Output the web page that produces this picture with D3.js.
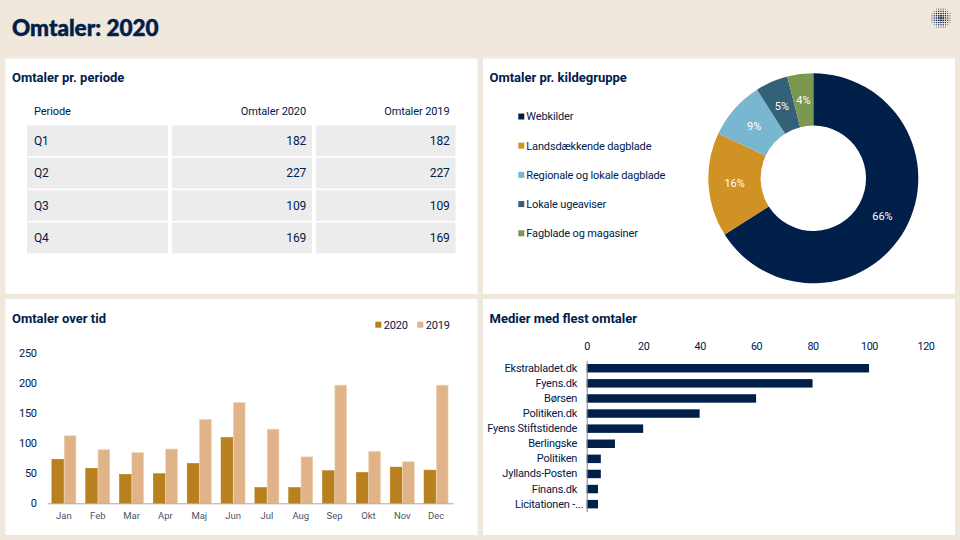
<!DOCTYPE html>
<html>
<head>
<meta charset="utf-8">
<script src="https://cdn.jsdelivr.net/npm/d3@7"></script>
<style>
  html, body { margin: 0; padding: 0; background: #f0e8dd; }
  svg { display: block; font-family: Roboto, sans-serif; }
  .axis path, .axis line { fill: none; }
  .panel-title { font-size: 13px; font-weight: 700; fill: #00204a; }
</style>
</head>
<body>
<div id="chart"></div>
<script>
// table
const tableHeader = ["Periode", "Omtaler 2020", "Omtaler 2019"];
const periods = ["Q1", "Q2", "Q3", "Q4"];
const mentions2020 = [182, 227, 109, 169];
const mentions2019 = [182, 227, 109, 169];

// donut
const sourceGroups = ["Webkilder", "Landsdækkende dagblade", "Regionale og lokale dagblade", "Lokale ugeaviser", "Fagblade og magasiner"];
const sourceShares = [66, 16, 9, 5, 4];
const sourceColors = ["#00204a", "#d09125", "#79b7d1", "#336178", "#7c984e"];

// monthly bars
const months = ["Jan", "Feb", "Mar", "Apr", "Maj", "Jun", "Jul", "Aug", "Sep", "Okt", "Nov", "Dec"];
const monthly2020 = [73, 58, 48, 49, 66, 109, 26, 26, 54, 51, 60, 55];
const monthly2019 = [112, 89, 84, 90, 139, 167, 123, 77, 196, 86, 69, 196];
const monthTicks = [0, 50, 100, 150, 200, 250];

// media bars
const media = ["Ekstrabladet.dk", "Fyens.dk", "Børsen", "Politiken.dk", "Fyens Stiftstidende", "Berlingske", "Politiken", "Jyllands-Posten", "Finans.dk", "Licitationen -..."];
const mediaCounts = [100, 80, 60, 40, 20, 10, 5, 5, 4, 4];
const mediaTicks = [0, 20, 40, 60, 80, 100, 120];

const NAVY = "#00204a";

const svg = d3.select("#chart").append("svg")
    .attr("width", 960)
    .attr("height", 540)
    .attr("viewBox", "0 0 960 540");

svg.append("rect").attr("width", 960).attr("height", 540).attr("fill", "#f0e8dd");

svg.append("text")
    .attr("x", 12).attr("y", 36)
    .attr("font-family", "Lato, sans-serif")
    .attr("font-size", 22.5)
    .attr("font-weight", 900)
    .attr("fill", NAVY)
    .attr("stroke", NAVY)
    .attr("stroke-width", 0.5)
    .text("Omtaler: 2020");

// white panels
const panels = [
  {x: 5.5, y: 58.5, title: "Omtaler pr. periode", tx: 12, ty: 81.5},
  {x: 483, y: 58.5, title: "Omtaler pr. kildegruppe", tx: 489.5, ty: 81.5},
  {x: 5.5, y: 299, title: "Omtaler over tid", tx: 12, ty: 323},
  {x: 483, y: 299, title: "Medier med flest omtaler", tx: 489.5, ty: 323}
];
svg.selectAll("rect.panel").data(panels).enter().append("rect")
    .attr("class", "panel")
    .attr("x", d => d.x).attr("y", d => d.y)
    .attr("width", 472).attr("height", d => d.y < 100 ? 235.5 : 236)
    .attr("fill", "#fff");
svg.selectAll("text.panel-title").data(panels).enter().append("text")
    .attr("class", "panel-title")
    .attr("x", d => d.tx).attr("y", d => d.ty)
    .text(d => d.title);

// logo: dot grid fading toward the edge
const logoSteps = d3.range(-4, 5);
const logoDots = logoSteps.flatMap(a => logoSteps.map(b => ({a, b})))
    .filter(d => Math.hypot(d.a, d.b) < 5);
svg.append("g").selectAll("circle").data(logoDots).enter().append("circle")
    .attr("cx", d => 941 + d.a * 2.25)
    .attr("cy", d => 18 + d.b * 2.25)
    .attr("r", d => 1.05 - Math.hypot(d.a, d.b) * 0.13)
    .attr("fill", "#0b1a4a");

// ---- table ----
const colX = d3.scaleOrdinal().domain([0, 1, 2]).range([27, 172, 316]);
const colW = [141, 140, 139.5];
const rowY = d3.scaleBand().domain(periods).range([125.3, 253.3]).paddingInner(0.05);

const rows = periods.map((p, i) => [p, mentions2020[i], mentions2019[i]]);
const table = svg.append("g");

table.selectAll("text.head").data(tableHeader).enter().append("text")
    .attr("class", "head")
    .attr("x", (d, i) => i === 0 ? colX(i) + 7 : colX(i) + colW[i] - 6)
    .attr("y", 115)
    .attr("text-anchor", (d, i) => i === 0 ? "start" : "end")
    .attr("font-size", 11)
    .attr("letter-spacing", -0.1)
    .attr("fill", NAVY)
    .text(d => d);

const rowG = table.selectAll("g.row").data(rows).enter().append("g")
    .attr("class", "row")
    .attr("transform", d => `translate(0,${rowY(d[0])})`);
rowG.selectAll("rect").data(d => d).enter().append("rect")
    .attr("x", (d, i) => colX(i))
    .attr("width", (d, i) => colW[i])
    .attr("height", rowY.bandwidth())
    .attr("fill", "#ececec");
rowG.selectAll("text").data(d => d).enter().append("text")
    .attr("x", (d, i) => i === 0 ? colX(i) + 7 : colX(i) + colW[i] - 6)
    .attr("y", rowY.bandwidth() / 2)
    .attr("dy", "0.35em")
    .attr("text-anchor", (d, i) => i === 0 ? "start" : "end")
    .attr("font-size", 12)
    .attr("letter-spacing", -0.2)
    .attr("fill", NAVY)
    .text(d => d);

// ---- donut ----
const pie = d3.pie().sort(null);
const arc = d3.arc().innerRadius(52.7).outerRadius(105);
const donut = svg.append("g").attr("transform", "translate(813.3,178.3)");
const slices = donut.selectAll("g").data(pie(sourceShares)).enter().append("g");
slices.append("path")
    .attr("d", arc)
    .attr("fill", (d, i) => sourceColors[i]);
slices.append("text")
    .attr("transform", d => `translate(${arc.centroid(d)})`)
    .attr("text-anchor", "middle")
    .attr("dy", "0.35em")
    .attr("font-size", 11)
    .attr("fill", "#fff")
    .text(d => d.data + "%");

const legendY = d3.scalePoint().domain(sourceGroups).range([116.5, 233.3]);
const legend = svg.append("g").selectAll("g").data(sourceGroups).enter().append("g")
    .attr("transform", d => `translate(518.3,${legendY(d)})`);
legend.append("rect")
    .attr("y", -3).attr("width", 6).attr("height", 6)
    .attr("fill", (d, i) => sourceColors[i]);
legend.append("text")
    .attr("x", 8).attr("dy", "0.35em")
    .attr("font-size", 11)
    .attr("letter-spacing", -0.15)
    .attr("fill", NAVY)
    .text(d => d);

// ---- monthly bars ----
const x = d3.scaleBand().domain(months).range([47, 453]);
const y = d3.scaleLinear().domain([0, 250]).range([503.3, 352.6]);
const BAR_W = 12.3;

const yAxis = svg.append("g").attr("class", "axis")
    .attr("transform", "translate(39.7,0)")
    .call(d3.axisLeft(y).tickValues(monthTicks).tickSize(0));
yAxis.select(".domain").remove();
yAxis.selectAll("text").attr("font-size", 11).attr("letter-spacing", -0.3).attr("font-family", "Roboto").attr("fill", NAVY);

const monthG = svg.append("g").selectAll("g").data(months).enter().append("g")
    .attr("transform", d => `translate(${x(d) + x.bandwidth() / 2},0)`);
monthG.append("rect")
    .attr("x", -BAR_W + 0.3)
    .attr("y", (d, i) => y(monthly2020[i]))
    .attr("width", BAR_W - 0.6)
    .attr("height", (d, i) => y(0) - y(monthly2020[i]))
    .attr("fill", "#b98020")
    .attr("stroke", "#b47a10")
    .attr("stroke-width", 0.6);
monthG.append("rect")
    .attr("x", 0.3)
    .attr("y", (d, i) => y(monthly2019[i]))
    .attr("width", BAR_W - 0.6)
    .attr("height", (d, i) => y(0) - y(monthly2019[i]))
    .attr("fill", "#e0b488")
    .attr("stroke", "#efd3b0")
    .attr("stroke-width", 0.6);

const xAxis = svg.append("g").attr("class", "axis")
    .attr("transform", "translate(0,503.3)")
    .call(d3.axisBottom(x).tickSize(0).tickPadding(8.5));
xAxis.select(".domain").attr("stroke", "#a8a5ad").attr("stroke-width", 1);
xAxis.selectAll("text").attr("font-size", 9.5).attr("font-family", "Roboto").attr("fill", "#4a5468");

const barLegend = [{name: "2020", color: "#b98020", x: 375.3}, {name: "2019", color: "#e0b488", x: 417.3}];
const barLegendG = svg.append("g").selectAll("g").data(barLegend).enter().append("g")
    .attr("transform", d => `translate(${d.x},324.7)`);
barLegendG.append("rect")
    .attr("y", -3).attr("width", 6).attr("height", 6)
    .attr("fill", d => d.color);
barLegendG.append("text")
    .attr("x", 8.4).attr("dy", "0.35em")
    .attr("font-size", 11)
    .attr("letter-spacing", -0.2)
    .attr("fill", NAVY)
    .text(d => d.name);

// ---- media bars ----
const mx = d3.scaleLinear().domain([0, 120]).range([586.7, 925.5]);
const my = d3.scaleBand().domain(media).range([360.7, 511.7]).paddingInner(0.44).paddingOuter(0.22);

const mxAxis = svg.append("g").attr("class", "axis")
    .attr("transform", "translate(0,350)")
    .call(d3.axisTop(mx).tickValues(mediaTicks).tickSize(0).tickPadding(0));
mxAxis.select(".domain").remove();
mxAxis.selectAll("text").attr("font-size", 10.8).attr("letter-spacing", -0.4).attr("font-family", "Roboto").attr("fill", NAVY);

svg.append("g").selectAll("rect").data(media).enter().append("rect")
    .attr("x", mx(0))
    .attr("y", d => my(d))
    .attr("width", (d, i) => mx(mediaCounts[i]) - mx(0))
    .attr("height", my.bandwidth())
    .attr("fill", NAVY);

const myAxis = svg.append("g").attr("class", "axis")
    .attr("transform", `translate(${mx(0)},0)`)
    .call(d3.axisLeft(my).tickSize(0).tickPadding(9.5));
myAxis.select(".domain").attr("stroke", "#7d8494").attr("stroke-width", 1);
myAxis.selectAll("text").attr("font-size", 11).attr("letter-spacing", -0.2).attr("font-family", "Roboto").attr("fill", NAVY);
// the truncated label runs closer to the axis
myAxis.selectAll("text").filter(d => d.endsWith("...")).attr("x", -3.5);
</script>
</body>
</html>
